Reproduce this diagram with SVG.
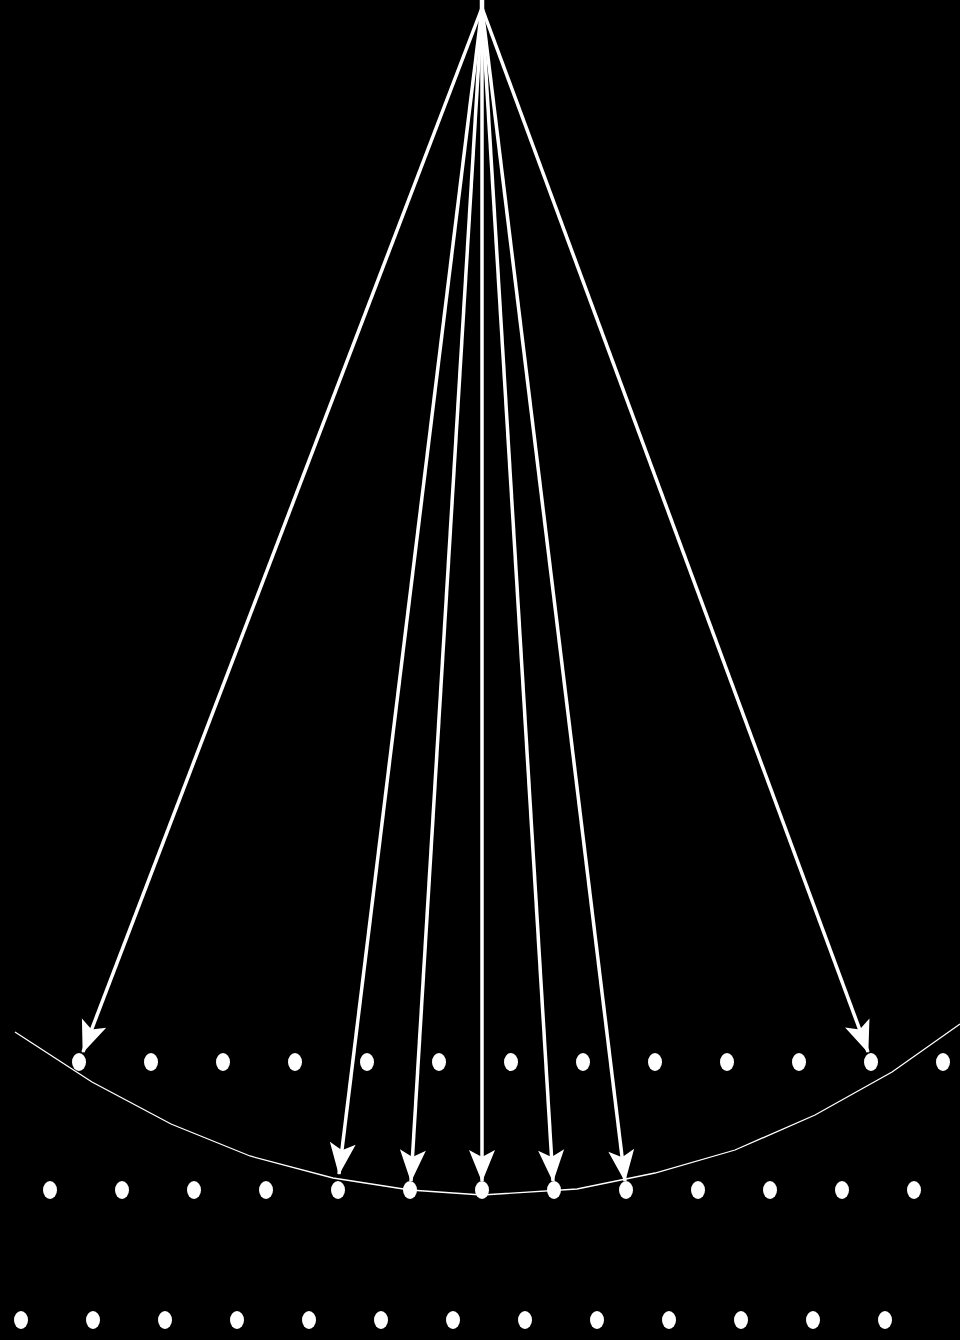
<svg xmlns="http://www.w3.org/2000/svg" width="960" height="1340" viewBox="0 0 960 1340">
<style>
.bg{fill:#000}
.node{fill:#fff}
.edge{stroke:#fff;stroke-width:3.5;fill:none}
.curve{stroke:#fff;stroke-width:1.3;fill:none}
</style>
<defs>
<marker id="ah" markerUnits="userSpaceOnUse" markerWidth="44" markerHeight="32" refX="40" refY="16" orient="auto" overflow="visible">
<path d="M41,16 L9,3 L16,16 L9,29 Z" fill="#fff"/>
</marker>
</defs>
<rect class="bg" x="0" y="0" width="960" height="1340"/>
<g id="curve">
<polyline class="curve" points="15,1032 92,1082 171,1124 250,1156 333,1178 410,1190 482,1195 577,1189 655,1173 735,1150 815,1115 892,1072 960,1024"/>
</g>
<g id="connectors">
<line x1="482" y1="0" x2="482" y2="12" stroke="#fff" stroke-width="4.5"/>
<line class="edge" x1="482" y1="8" x2="83" y2="1052" marker-end="url(#ah)"/>
<line class="edge" x1="482" y1="8" x2="339" y2="1174" marker-end="url(#ah)"/>
<line class="edge" x1="482" y1="8" x2="411" y2="1181" marker-end="url(#ah)"/>
<line class="edge" x1="482" y1="8" x2="482" y2="1181" marker-end="url(#ah)"/>
<line class="edge" x1="482" y1="8" x2="553" y2="1181" marker-end="url(#ah)"/>
<line class="edge" x1="482" y1="8" x2="625" y2="1181" marker-end="url(#ah)"/>
<line class="edge" x1="482" y1="8" x2="868" y2="1052" marker-end="url(#ah)"/>
</g>
<g id="row1">
<ellipse id="n1_0" class="node" cx="79" cy="1062" rx="7" ry="9"/>
<ellipse id="n1_1" class="node" cx="151" cy="1062" rx="7" ry="9"/>
<ellipse id="n1_2" class="node" cx="223" cy="1062" rx="7" ry="9"/>
<ellipse id="n1_3" class="node" cx="295" cy="1062" rx="7" ry="9"/>
<ellipse id="n1_4" class="node" cx="367" cy="1062" rx="7" ry="9"/>
<ellipse id="n1_5" class="node" cx="439" cy="1062" rx="7" ry="9"/>
<ellipse id="n1_6" class="node" cx="511" cy="1062" rx="7" ry="9"/>
<ellipse id="n1_7" class="node" cx="583" cy="1062" rx="7" ry="9"/>
<ellipse id="n1_8" class="node" cx="655" cy="1062" rx="7" ry="9"/>
<ellipse id="n1_9" class="node" cx="727" cy="1062" rx="7" ry="9"/>
<ellipse id="n1_10" class="node" cx="799" cy="1062" rx="7" ry="9"/>
<ellipse id="n1_11" class="node" cx="871" cy="1062" rx="7" ry="9"/>
<ellipse id="n1_12" class="node" cx="943" cy="1062" rx="7" ry="9"/>
</g>
<g id="row2">
<ellipse id="n2_0" class="node" cx="50" cy="1190" rx="7" ry="9"/>
<ellipse id="n2_1" class="node" cx="122" cy="1190" rx="7" ry="9"/>
<ellipse id="n2_2" class="node" cx="194" cy="1190" rx="7" ry="9"/>
<ellipse id="n2_3" class="node" cx="266" cy="1190" rx="7" ry="9"/>
<ellipse id="n2_4" class="node" cx="338" cy="1190" rx="7" ry="9"/>
<ellipse id="n2_5" class="node" cx="410" cy="1190" rx="7" ry="9"/>
<ellipse id="n2_6" class="node" cx="482" cy="1190" rx="7" ry="9"/>
<ellipse id="n2_7" class="node" cx="554" cy="1190" rx="7" ry="9"/>
<ellipse id="n2_8" class="node" cx="626" cy="1190" rx="7" ry="9"/>
<ellipse id="n2_9" class="node" cx="698" cy="1190" rx="7" ry="9"/>
<ellipse id="n2_10" class="node" cx="770" cy="1190" rx="7" ry="9"/>
<ellipse id="n2_11" class="node" cx="842" cy="1190" rx="7" ry="9"/>
<ellipse id="n2_12" class="node" cx="914" cy="1190" rx="7" ry="9"/>
</g>
<g id="row3">
<ellipse id="n3_0" class="node" cx="21" cy="1320" rx="7" ry="9"/>
<ellipse id="n3_1" class="node" cx="93" cy="1320" rx="7" ry="9"/>
<ellipse id="n3_2" class="node" cx="165" cy="1320" rx="7" ry="9"/>
<ellipse id="n3_3" class="node" cx="237" cy="1320" rx="7" ry="9"/>
<ellipse id="n3_4" class="node" cx="309" cy="1320" rx="7" ry="9"/>
<ellipse id="n3_5" class="node" cx="381" cy="1320" rx="7" ry="9"/>
<ellipse id="n3_6" class="node" cx="453" cy="1320" rx="7" ry="9"/>
<ellipse id="n3_7" class="node" cx="525" cy="1320" rx="7" ry="9"/>
<ellipse id="n3_8" class="node" cx="597" cy="1320" rx="7" ry="9"/>
<ellipse id="n3_9" class="node" cx="669" cy="1320" rx="7" ry="9"/>
<ellipse id="n3_10" class="node" cx="741" cy="1320" rx="7" ry="9"/>
<ellipse id="n3_11" class="node" cx="813" cy="1320" rx="7" ry="9"/>
<ellipse id="n3_12" class="node" cx="885" cy="1320" rx="7" ry="9"/>
</g>
</svg>
